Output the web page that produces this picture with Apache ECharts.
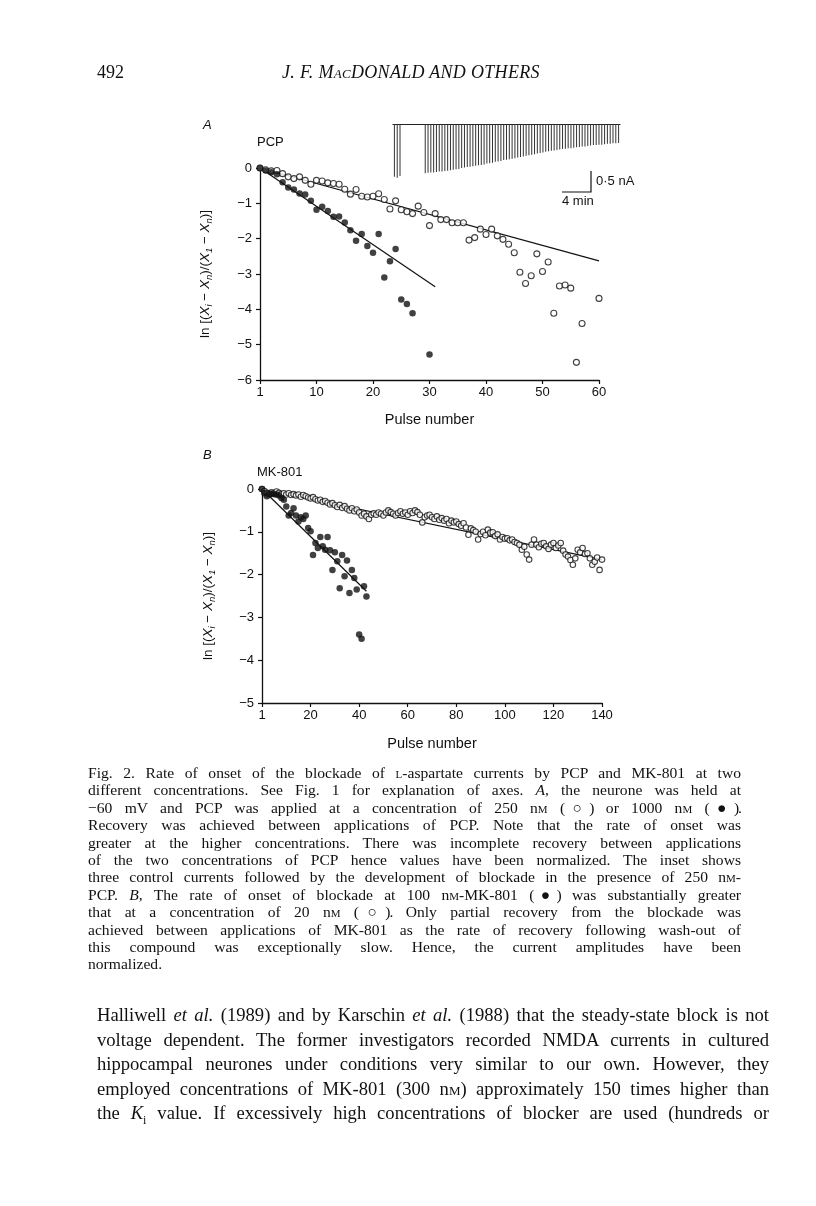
<!DOCTYPE html>
<html><head><meta charset="utf-8">
<script src="https://cdn.jsdelivr.net/npm/echarts/dist/echarts.min.js"></script>
<style>
html,body{margin:0;padding:0;background:#fff;}
#page{position:relative;width:816px;height:1206px;overflow:hidden;}
#chart{position:absolute;left:0;top:0;width:816px;height:1206px;}
.txt{position:absolute;font-family:"Liberation Serif","DejaVu Serif",serif;color:#111;}
.ln{text-align:justify;text-align-last:justify;}
.last{text-align:left;text-align-last:left;}
.sc{font-variant:small-caps;}
.sym{letter-spacing:-1px;}
</style></head>
<body><div id="page"><div id="chart"></div>
<div class="txt" style="left:97px;top:61px;font-size:18px;line-height:22px;">492</div>
<div class="txt" style="left:282px;top:61px;font-size:18px;line-height:22px;font-style:italic;letter-spacing:0.3px;">J. F. M<span class="sc">ac</span>DONALD AND OTHERS</div>
<div class="txt" style="left:88px;top:764px;width:653px;font-size:15.6px;line-height:17.4px;">
<div class="ln">Fig. 2. Rate of onset of the blockade of <span class="sc">l</span>-aspartate currents by PCP and MK-801 at two</div>
<div class="ln">different concentrations. See Fig. 1 for explanation of axes. <i>A</i>, the neurone was held at</div>
<div class="ln">−60 mV and PCP was applied at a concentration of 250 n<span class="sc">m</span> <span class="sym">(○)</span> or 1000 n<span class="sc">m</span> <span class="sym">(●).</span></div>
<div class="ln">Recovery was achieved between applications of PCP. Note that the rate of onset was</div>
<div class="ln">greater at the higher concentrations. There was incomplete recovery between applications</div>
<div class="ln">of the two concentrations of PCP hence values have been normalized. The inset shows</div>
<div class="ln">three control currents followed by the development of blockade in the presence of 250 n<span class="sc">m</span>-</div>
<div class="ln">PCP. <i>B</i>, The rate of onset of blockade at 100 n<span class="sc">m</span>-MK-801 <span class="sym">(●)</span> was substantially greater</div>
<div class="ln">that at a concentration of 20 n<span class="sc">m</span> <span class="sym">(○).</span> Only partial recovery from the blockade was</div>
<div class="ln">achieved between applications of MK-801 as the rate of recovery following wash-out of</div>
<div class="ln">this compound was exceptionally slow. Hence, the current amplitudes have been</div>
<div class="ln last">normalized.</div>
</div>
<div class="txt" style="left:97px;top:1003px;width:672px;font-size:18.6px;line-height:24.5px;">
<div class="ln">Halliwell <i>et al.</i> (1989) and by Karschin <i>et al.</i> (1988) that the steady-state block is not</div>
<div class="ln">voltage dependent. The former investigators recorded NMDA currents in cultured</div>
<div class="ln">hippocampal neurones under conditions very similar to our own. However, they</div>
<div class="ln">employed concentrations of MK-801 (300 n<span class="sc">m</span>) approximately 150 times higher than</div>
<div class="ln">the <i>K</i><sub style="font-size:12px;line-height:0;">i</sub> value. If excessively high concentrations of blocker are used (hundreds or</div>
</div>
</div>
<script>
// ---------- Data ----------
// Panel A: PCP 250 nM (open circles)
const pcp250X = [0,1,2,3,4,5,6,7,8,9,10,11,12,13,14,15,16,17,18,19,20,21,22,23,24,25,26,27,28,29,30,31,32,33,34,35,36,37,38,39,40,41,42,43,44,45,46,47,48,49,50,51,52,53,54,55,56,57,60];
const pcp250Y = [0,-0.05,-0.08,-0.07,-0.16,-0.25,-0.30,-0.25,-0.35,-0.46,
 -0.35,-0.37,-0.42,-0.44,-0.46,-0.60,-0.74,-0.61,-0.80,-0.82,
 -0.80,-0.73,-0.89,-1.16,-0.93,-1.18,-1.24,-1.29,-1.08,-1.26,
 -1.63,-1.29,-1.46,-1.46,-1.55,-1.55,-1.55,-2.04,-1.97,-1.73,
 -1.88,-1.73,-1.92,-2.02,-2.16,-2.40,-2.95,-3.27,-3.05,-2.43,
 -2.93,-2.66,-4.11,-3.34,-3.31,-3.40,-5.50,-4.40,-3.69];
// Panel A: PCP 1000 nM (filled circles)
const pcp1000X = [0,1,2,3,4,5,6,7,8,9,10,11,12,13,14,15,16,17,18,19,20,21,22,23,24,25,26,27,30];
const pcp1000Y = [0,-0.07,-0.12,-0.18,-0.40,-0.55,-0.61,-0.72,-0.75,-0.93,
 -1.18,-1.10,-1.22,-1.38,-1.37,-1.54,-1.76,-2.06,-1.87,-2.21,
 -2.40,-1.87,-3.10,-2.64,-2.29,-3.72,-3.85,-4.11,-5.28];
// Fitted lines, panel A
const fitPcp250 = [[0,0],[60,-2.63]];
const fitPcp1000 = [[0,0],[31,-3.36]];

// Panel B: MK-801 20 nM (open circles), pulses 0..140
const mk20Y = [0,-0.05,-0.10,-0.12,-0.08,-0.10,-0.06,-0.09,-0.12,-0.10,
 -0.13,-0.10,-0.14,-0.12,-0.15,-0.13,-0.18,-0.14,-0.17,-0.20,
 -0.22,-0.19,-0.24,-0.27,-0.25,-0.30,-0.28,-0.32,-0.36,-0.33,
 -0.38,-0.42,-0.37,-0.44,-0.40,-0.46,-0.50,-0.45,-0.52,-0.48,
 -0.55,-0.62,-0.58,-0.64,-0.70,-0.60,-0.57,-0.60,-0.55,-0.58,
 -0.62,-0.55,-0.50,-0.54,-0.58,-0.62,-0.56,-0.52,-0.58,-0.55,
 -0.60,-0.52,-0.56,-0.50,-0.54,-0.60,-0.78,-0.66,-0.62,-0.60,
 -0.66,-0.70,-0.64,-0.72,-0.68,-0.74,-0.70,-0.80,-0.74,-0.78,
 -0.76,-0.82,-0.86,-0.80,-0.90,-1.07,-0.92,-0.96,-1.00,-1.18,
 -1.05,-1.00,-1.08,-0.95,-1.02,-1.01,-1.10,-1.06,-1.18,-1.12,
 -1.16,-1.15,-1.20,-1.18,-1.24,-1.26,-1.30,-1.42,-1.35,-1.53,
 -1.65,-1.30,-1.18,-1.30,-1.36,-1.28,-1.26,-1.34,-1.40,-1.30,
 -1.26,-1.38,-1.32,-1.26,-1.44,-1.53,-1.58,-1.66,-1.77,-1.62,
 -1.42,-1.48,-1.38,-1.52,-1.50,-1.62,-1.77,-1.70,-1.60,-1.89,
 -1.65];
// Panel B: MK-801 100 nM (filled circles), pulses 0..43
const mk100Y = [0,-0.10,-0.17,-0.12,-0.11,-0.12,-0.13,-0.15,-0.21,-0.25,
 -0.41,-0.62,-0.56,-0.45,-0.62,-0.76,-0.66,-0.70,-0.62,-0.91,
 -0.99,-1.54,-1.26,-1.38,-1.12,-1.34,-1.42,-1.12,-1.43,-1.89,
 -1.48,-1.69,-2.32,-1.54,-2.04,-1.67,-2.43,-1.89,-2.08,-2.35,
 -3.40,-3.50,-2.27,-2.51];
const fitMk20 = [[0,0],[140,-1.65]];
const fitMk100 = [[0,0],[43,-2.39]];

// Inset: current amplitudes (nA), one slot per pulse; nulls = gap after controls
const insetAmp = [-1.20,-1.22,-1.18, null,null,null,null,null,null,null,null,
 -1.12,-1.11,-1.10,-1.10,-1.09,-1.08,-1.08,-1.07,-1.06,-1.05,
 -1.04,-1.03,-1.02,-1.00,-0.99,-0.98,-0.97,-0.96,-0.95,-0.94,
 -0.93,-0.92,-0.90,-0.89,-0.88,-0.86,-0.85,-0.84,-0.82,-0.81,
 -0.80,-0.79,-0.78,-0.76,-0.75,-0.74,-0.72,-0.71,-0.70,-0.69,
 -0.67,-0.66,-0.65,-0.63,-0.62,-0.61,-0.60,-0.59,-0.58,-0.57,
 -0.56,-0.55,-0.55,-0.54,-0.53,-0.52,-0.51,-0.51,-0.50,-0.49,
 -0.48,-0.48,-0.47,-0.47,-0.46,-0.45,-0.45,-0.44,-0.44,-0.43];

const xTicksA = [0,10,20,30,40,50,60];
const xTicksB = [0,20,40,60,80,100,120,140];

// ---------- Build ----------
const zip = (xs, ys) => xs.map((x,i)=>[x, ys[i]]);
const idx = ys => ys.map((y,i)=>[i,y]);
const SANS = '"Liberation Sans", Arial, Helvetica, sans-serif';
const minus = v => v < 0 ? '\u2212' + Math.abs(v) : String(v);
const xFmt = v => v === 0 ? '1' : String(v);

const yName = '{t|ln [(}{i|X}{s|i}{t| \u2212 }{i|X}{s|n}{t|)/(}{i|X}{s|1}{t| \u2212 }{i|X}{s|n}{t|)]}';
const yNameRich = {
  t:{fontSize:13.5, fontFamily:SANS, color:'#111', lineHeight:17},
  i:{fontSize:13.5, fontFamily:SANS, fontStyle:'italic', color:'#111', lineHeight:17},
  s:{fontSize:9.5, fontFamily:SANS, fontStyle:'italic', color:'#111', lineHeight:9, verticalAlign:'bottom'}
};
function mkX(grid, max, interval, ticks, gap){
  return {type:'value', gridIndex:grid, min:0, max:max, interval:interval,
    axisLine:{show:true, onZero:false, lineStyle:{color:'#111', width:1.3}},
    axisTick:{show:true, inside:false, length:4, lineStyle:{color:'#111', width:1.2}, customValues:ticks},
    axisLabel:{color:'#111', fontSize:13, fontFamily:SANS, margin:6, formatter:xFmt, customValues:ticks},
    splitLine:{show:false},
    name:'Pulse number', nameLocation:'middle', nameGap:gap,
    nameTextStyle:{color:'#111', fontSize:14.5, fontFamily:SANS}};
}
function mkY(grid, min, gap){
  return {type:'value', gridIndex:grid, min:min, max:0, interval:1,
    axisLine:{show:true, onZero:false, lineStyle:{color:'#111', width:1.3}},
    axisTick:{show:true, inside:false, length:4, lineStyle:{color:'#111', width:1.2}},
    axisLabel:{color:'#111', fontSize:13, fontFamily:SANS, margin:8, formatter:minus},
    splitLine:{show:false},
    name:yName, nameLocation:'middle', nameGap:gap, nameRotate:90,
    nameTextStyle:{rich:yNameRich}};
}
const openStyle = {color:'#fff', borderColor:'#111', borderWidth:1.1};
const fillStyle = {color:'#111'};
const lineSeries = (data, xi, yi) => ({type:'line', xAxisIndex:xi, yAxisIndex:yi, data:data,
  showSymbol:false, symbol:'none', lineStyle:{color:'#111', width:1.2}, z:1, silent:true});

const chart = echarts.init(document.getElementById('chart'), null, {renderer:'canvas'});
chart.setOption({
  animation:false,
  backgroundColor:'transparent',
  grid:[
    {left:260, top:168, width:339, height:212},
    {left:262, top:489, width:340, height:214},
    {left:393, top:124, width:227, height:55}
  ],
  xAxis:[
    mkX(0, 60, 10, xTicksA, 32),
    mkX(1, 140, 20, xTicksB, 33),
    {type:'category', gridIndex:2, data:insetAmp.map((v,i)=>i), boundaryGap:true,
      axisLine:{show:true, onZero:true, lineStyle:{color:'#222', width:1.2}},
      axisTick:{show:false}, axisLabel:{show:false}, splitLine:{show:false}}
  ],
  yAxis:[
    mkY(0, -6, 46),
    mkY(1, -5, 45),
    {type:'value', gridIndex:2, min:-1.25, max:0, show:false, splitLine:{show:false}}
  ],
  series:[
    lineSeries(fitPcp250, 0, 0),
    lineSeries(fitPcp1000, 0, 0),
    {type:'scatter', xAxisIndex:0, yAxisIndex:0, data:zip(pcp250X, pcp250Y), symbol:'circle', symbolSize:6, itemStyle:openStyle, z:3},
    {type:'scatter', xAxisIndex:0, yAxisIndex:0, data:zip(pcp1000X, pcp1000Y), symbol:'circle', symbolSize:6.5, itemStyle:fillStyle, z:4},
    lineSeries(fitMk20, 1, 1),
    lineSeries(fitMk100, 1, 1),
    {type:'scatter', xAxisIndex:1, yAxisIndex:1, data:idx(mk20Y), symbol:'circle', symbolSize:5.5, itemStyle:openStyle, z:3},
    {type:'scatter', xAxisIndex:1, yAxisIndex:1, data:idx(mk100Y), symbol:'circle', symbolSize:6.5, itemStyle:fillStyle, z:4},
    {type:'bar', xAxisIndex:2, yAxisIndex:2, data:insetAmp, barWidth:1, itemStyle:{color:'#333'}, silent:true}
  ],
  graphic:[
    {type:'text', left:203, top:119, style:{text:'A', font:'italic 13px '+SANS, fill:'#111'}},
    {type:'text', left:257, top:136, style:{text:'PCP', font:'13px '+SANS, fill:'#111'}},
    {type:'text', left:203, top:449, style:{text:'B', font:'italic 13px '+SANS, fill:'#111'}},
    {type:'text', left:257, top:466, style:{text:'MK-801', font:'13px '+SANS, fill:'#111'}},
    {type:'polyline', shape:{points:[[562,192],[591,192],[591,171]]}, style:{stroke:'#111', lineWidth:1.2, fill:null}},
    {type:'text', left:596, top:175, style:{text:'0\u00b75 nA', font:'13px '+SANS, fill:'#111'}},
    {type:'text', left:562, top:195, style:{text:'4 min', font:'13px '+SANS, fill:'#111'}}
  ]
});
</script>
</body></html>
